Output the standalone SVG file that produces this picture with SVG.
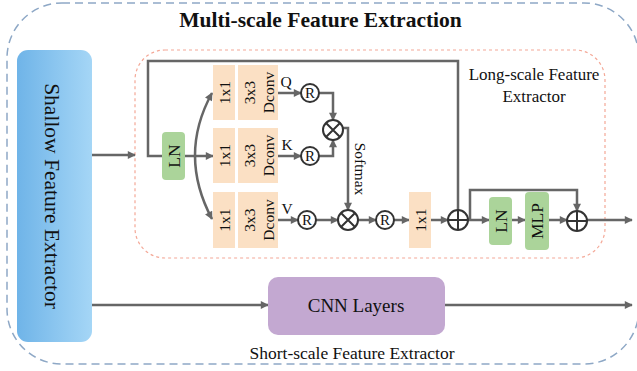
<svg xmlns="http://www.w3.org/2000/svg" width="637" height="371" viewBox="0 0 637 371">
<defs>
<linearGradient id="blueGrad" x1="0" y1="0" x2="1" y2="0">
<stop offset="0" stop-color="#6fb4e8"/>
<stop offset="1" stop-color="#a5d6f6"/>
</linearGradient>
<marker id="arr" viewBox="0 0 10 10" refX="9" refY="5" markerWidth="10" markerHeight="8" markerUnits="userSpaceOnUse" orient="auto">
<path d="M0,0 L10,5 L0,10 z" fill="#666"/>
</marker>
<marker id="arrs" viewBox="0 0 10 10" refX="9" refY="5" markerWidth="10" markerHeight="8" markerUnits="userSpaceOnUse" orient="auto-start-reverse">
<path d="M0,0 L10,5 L0,10 z" fill="#666"/>
</marker>
</defs>
<style>
text{font-family:"Liberation Serif","Times New Roman",serif;fill:#111;}
.ln{fill:none;stroke:#666;stroke-width:2.5;}
.box{fill:#fbe0c4;}
.green{fill:#abd49a;}
.circ{fill:#fff;stroke:#333;stroke-width:2;}
.sym{stroke:#333;stroke-width:2;}
.lbl{font-size:15.5px;}
.big{font-size:17.5px;}
</style>
<rect x="7" y="3" width="632" height="361" rx="55" fill="none" stroke="#8ea8c6" stroke-width="1.5" stroke-dasharray="8,5"/>
<text x="320.5" y="27" text-anchor="middle" font-size="21.5" font-weight="bold">Multi-scale Feature Extraction</text>
<rect x="135" y="50" width="470" height="208" rx="30" fill="none" stroke="#f4a897" stroke-width="1.2" stroke-dasharray="3,3"/>
<text x="534" y="80" text-anchor="middle" font-size="17">Long-scale Feature</text>
<text x="534" y="102" text-anchor="middle" font-size="17">Extractor</text>
<text x="352" y="359" text-anchor="middle" font-size="17.5">Short-scale Feature Extractor</text>

<g id="connectors">
<line class="ln" x1="92" y1="155" x2="135" y2="155" marker-end="url(#arr)"/>
<line class="ln" x1="92" y1="305" x2="268" y2="305" marker-end="url(#arr)"/>
<line class="ln" x1="445" y1="305" x2="632" y2="305" marker-end="url(#arr)"/>
<path class="ln" d="M162 156 H148 V61 H458 V210"/>
<line class="ln" x1="185" y1="156" x2="213" y2="156" marker-end="url(#arr)"/>
<path class="ln" d="M212 93 Q178 155 212 219" marker-start="url(#arrs)" marker-end="url(#arr)"/>
<line class="ln" x1="278" y1="93" x2="301" y2="93" marker-end="url(#arr)"/>
<line class="ln" x1="278" y1="156" x2="301" y2="156" marker-end="url(#arr)"/>
<line class="ln" x1="278" y1="220" x2="298" y2="220" marker-end="url(#arr)"/>
<path class="ln" d="M319 93 H333 V120" marker-end="url(#arr)"/>
<path class="ln" d="M319 156 H333 V140" marker-end="url(#arr)"/>
<path class="ln" d="M343 128 H348 V210" marker-end="url(#arr)"/>
<line class="ln" x1="316" y1="220" x2="338" y2="220" marker-end="url(#arr)"/>
<line class="ln" x1="358" y1="220" x2="376" y2="220" marker-end="url(#arr)"/>
<line class="ln" x1="394" y1="220" x2="409" y2="220" marker-end="url(#arr)"/>
<line class="ln" x1="431" y1="220" x2="448" y2="220" marker-end="url(#arr)"/>
<line class="ln" x1="468" y1="220" x2="489" y2="220" marker-end="url(#arr)"/>
<path class="ln" d="M470 220 V190 H577 V211" marker-end="url(#arr)"/>
<line class="ln" x1="512" y1="220" x2="525" y2="220" marker-end="url(#arr)"/>
<line class="ln" x1="549" y1="220" x2="567" y2="220" marker-end="url(#arr)"/>
<line class="ln" x1="587" y1="220" x2="632" y2="220" marker-end="url(#arr)"/>
</g>

<g id="shallow">
<rect x="17" y="50" width="75" height="292" rx="11" fill="url(#blueGrad)"/>
<text transform="translate(52,196) rotate(90)" text-anchor="middle" dominant-baseline="central" font-size="21.5">Shallow Feature Extractor</text>
</g>
<g id="cnn">
<rect x="268" y="277" width="177" height="58" rx="10" fill="#c3a8d1"/>
<text x="356" y="312" text-anchor="middle" font-size="19">CNN Layers</text>
</g>
<g id="ln1">
<rect class="green" x="162" y="132" width="23" height="48" rx="4"/>
<text class="big" transform="translate(173.5,156) rotate(-90)" text-anchor="middle" dominant-baseline="central">LN</text>
</g>
<g id="q1x1">
<rect class="box" x="213" y="65" width="22" height="55"/>
<text class="lbl" transform="translate(224,92.5) rotate(-90)" text-anchor="middle" dominant-baseline="central">1x1</text>
</g>
<g id="qdconv">
<rect class="box" x="238" y="65" width="40" height="55"/>
<text class="lbl" transform="translate(249,92.5) rotate(-90)" text-anchor="middle" dominant-baseline="central">3x3</text>
<text class="lbl" transform="translate(268,92.5) rotate(-90)" text-anchor="middle" dominant-baseline="central">Dconv</text>
</g>
<g id="k1x1">
<rect class="box" x="213" y="128" width="22" height="55"/>
<text class="lbl" transform="translate(224,155.5) rotate(-90)" text-anchor="middle" dominant-baseline="central">1x1</text>
</g>
<g id="kdconv">
<rect class="box" x="238" y="128" width="40" height="55"/>
<text class="lbl" transform="translate(249,155.5) rotate(-90)" text-anchor="middle" dominant-baseline="central">3x3</text>
<text class="lbl" transform="translate(268,155.5) rotate(-90)" text-anchor="middle" dominant-baseline="central">Dconv</text>
</g>
<g id="v1x1">
<rect class="box" x="213" y="192" width="22" height="56"/>
<text class="lbl" transform="translate(224,220) rotate(-90)" text-anchor="middle" dominant-baseline="central">1x1</text>
</g>
<g id="vdconv">
<rect class="box" x="238" y="192" width="40" height="56"/>
<text class="lbl" transform="translate(249,220) rotate(-90)" text-anchor="middle" dominant-baseline="central">3x3</text>
<text class="lbl" transform="translate(268,220) rotate(-90)" text-anchor="middle" dominant-baseline="central">Dconv</text>
</g>
<g id="labels">
<text class="lbl" x="286" y="87" text-anchor="middle">Q</text>
<text class="lbl" x="287" y="150" text-anchor="middle">K</text>
<text class="lbl" x="287" y="214" text-anchor="middle">V</text>
<text class="lbl" transform="translate(360,169) rotate(90)" text-anchor="middle" dominant-baseline="central">Softmax</text>
</g>
<g id="rq">
<circle class="circ" cx="310" cy="93" r="9"/>
<text x="310" y="98" text-anchor="middle" font-size="15">R</text>
</g>
<g id="rk">
<circle class="circ" cx="310" cy="156" r="9"/>
<text x="310" y="161" text-anchor="middle" font-size="15">R</text>
</g>
<g id="rv">
<circle class="circ" cx="307" cy="220" r="9"/>
<text x="307" y="225" text-anchor="middle" font-size="15">R</text>
</g>
<g id="mul1">
<circle class="circ" cx="333" cy="130" r="10"/>
<path class="sym" d="M326 123 L340 137 M340 123 L326 137"/>
</g>
<g id="mul2">
<circle class="circ" cx="348" cy="220" r="10"/>
<path class="sym" d="M341 213 L355 227 M355 213 L341 227"/>
</g>
<g id="r2">
<circle class="circ" cx="385" cy="220" r="9"/>
<text x="385" y="225" text-anchor="middle" font-size="15">R</text>
</g>
<g id="proj1x1">
<rect class="box" x="409" y="192" width="22" height="56"/>
<text class="lbl" transform="translate(420,220) rotate(-90)" text-anchor="middle" dominant-baseline="central">1x1</text>
</g>
<g id="add1">
<circle class="circ" cx="458" cy="220" r="10"/>
<path class="sym" d="M448 220 H468 M458 210 V230"/>
</g>
<g id="ln2">
<rect class="green" x="489" y="197" width="23" height="48" rx="4"/>
<text class="big" transform="translate(500.5,221) rotate(-90)" text-anchor="middle" dominant-baseline="central">LN</text>
</g>
<g id="mlp">
<rect class="green" x="525" y="192" width="24" height="58" rx="4"/>
<text class="big" transform="translate(537,221) rotate(-90)" text-anchor="middle" dominant-baseline="central">MLP</text>
</g>
<g id="add2">
<circle class="circ" cx="577" cy="221" r="10"/>
<path class="sym" d="M567 221 H587 M577 211 V231"/>
</g>
</svg>
